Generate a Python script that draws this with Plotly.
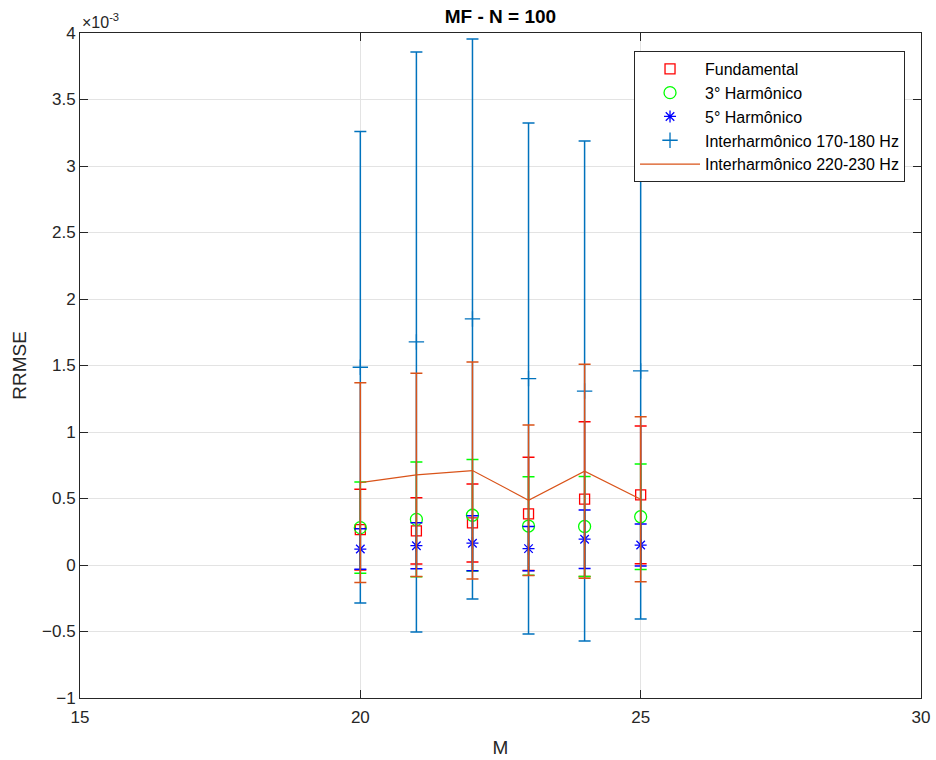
import plotly.graph_objects as go

# values in units of 1e-3 (axis shows x10^-3)
M = [20, 21, 22, 23, 24, 25]

fund = [0.266, 0.257, 0.316, 0.384, 0.495, 0.527]
fund_err = [0.303, 0.249, 0.293, 0.426, 0.582, 0.518]

h3 = [0.281, 0.343, 0.374, 0.293, 0.290, 0.363]
h3_err = [0.343, 0.431, 0.420, 0.371, 0.376, 0.396]

h5 = [0.120, 0.145, 0.164, 0.123, 0.194, 0.150]
h5_err = [0.152, 0.173, 0.207, 0.166, 0.220, 0.158]

ih170 = [1.487, 1.677, 1.850, 1.402, 1.308, 1.459]
ih170_err = [1.773, 2.180, 2.105, 1.921, 1.880, 1.865]

ih220 = [0.619, 0.677, 0.710, 0.487, 0.705, 0.495]
ih220_err = [0.751, 0.764, 0.816, 0.566, 0.805, 0.620]

series = [
    ("Fundamental", fund, fund_err, "#FF0000", "square-open", 10, "markers"),
    ("3° Harmônico", h3, h3_err, "#00FF00", "circle-open", 12, "markers"),
    ("5° Harmônico", h5, h5_err, "#0000FF", "asterisk-open", 10, "markers"),
    ("Interharmônico 170-180 Hz", ih170, ih170_err, "#0072BD", "cross-thin-open", 11, "markers"),
    ("Interharmônico 220-230 Hz", ih220, ih220_err, "#D95319", None, 0, "lines"),
]

fig = go.Figure()
for name, vals, errs, color, sym, size, mode in series:
    kw = {}
    if sym:
        kw["marker"] = dict(symbol=sym, size=size, color=color,
                            line=dict(color=color, width=1.3))
    else:
        kw["line"] = dict(color=color, width=1.2)
    fig.add_trace(go.Scatter(
        x=M, y=vals, name=name, mode=mode,
        error_y=dict(type="data", array=errs, visible=True, color=color,
                     thickness=1.5, width=6),
        **kw))

FONT = "Liberation Sans, Arial"
axis_common = dict(
    showline=True, linecolor="#262626", linewidth=1, mirror="ticks",
    ticks="inside", ticklen=8, tickcolor="#262626",
    showgrid=True, gridcolor="#E3E3E3", gridwidth=1,
    zeroline=False, automargin=False,
    tickfont=dict(family=FONT, size=17, color="#262626"),
)

fig.update_layout(
    width=936, height=760,
    margin=dict(l=80, r=15, t=33, b=62),
    paper_bgcolor="white", plot_bgcolor="white",
    font=dict(family=FONT, color="#262626"),
    title=dict(text="<b>MF - N = 100</b>", x=0.5, xref="paper",
               y=0.978, yanchor="middle",
               font=dict(family=FONT, size=19, color="black")),
    xaxis=dict(range=[15, 30], dtick=5,
               title=dict(text="M", font=dict(size=19), standoff=14),
               ticklabelstandoff=4,
               **axis_common),
    yaxis=dict(range=[-1, 4], dtick=0.5,
               title=dict(text="RRMSE", font=dict(size=19), standoff=10),
               **axis_common),
    legend=dict(x=0.981, y=0.973, xanchor="right", yanchor="top",
                bgcolor="white", bordercolor="#262626", borderwidth=1,
                font=dict(family=FONT, size=16, color="black"),
                itemwidth=60),
    showlegend=True,
)

fig.add_annotation(text="×10<sup>-3</sup>", xref="paper", yref="paper",
                   x=0.0, y=1.0, xanchor="left", yanchor="bottom",
                   showarrow=False, font=dict(family=FONT, size=16, color="#262626"))

fig.write_html("out.html")
